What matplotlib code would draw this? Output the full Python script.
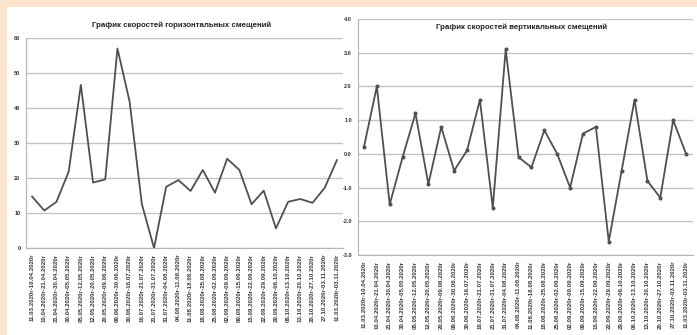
import matplotlib
matplotlib.use("Agg")
import matplotlib.pyplot as plt
from matplotlib.patches import Rectangle

periods = [
    "11.03.2020г-10.04.2020г", "10.04.2020г-21.04.2020г", "21.04.2020г-30.04.2020г",
    "30.04.2020г-05.05.2020г", "05.05.2020г-12.05.2020г", "12.05.2020г-20.05.2020г",
    "20.05.2020г-09.06.2020г", "09.06.2020г-30.06.2020г", "30.06.2020г-16.07.2020г",
    "16.07.2020г-21.07.2020г", "21.07.2020г-31.07.2020г", "31.07.2020г-04.08.2020г",
    "04.08.2020г-11.08.2020г", "11.08.2020г-18.08.2020г", "18.08.2020г-25.08.2020г",
    "25.08.2020г-02.09.2020г", "02.09.2020г-09.09.2020г", "09.09.2020г-15.09.2020г",
    "15.09.2020г-22.09.2020г", "22.09.2020г-29.09.2020г", "29.09.2020г-06.10.2020г",
    "06.10.2020г-13.10.2020г", "13.10.2020г-20.10.2020г", "20.10.2020г-27.10.2020г",
    "27.10.2020г-03.11.2020г", "11.03.2020г-03.11.2020г",
]
horizontal = [14.7, 10.7, 13.2, 21.8, 46.6, 18.7, 19.6, 57.0, 41.8, 12.6, 0.0, 17.5, 19.4,
              16.3, 22.3, 15.8, 25.5, 22.3, 12.5, 16.4, 5.6, 13.2, 14.0, 12.9, 17.2, 25.1]
vertical = [0.2, 2.0, -1.5, -0.1, 1.2, -0.9, 0.8, -0.5, 0.1, 1.6, -1.6, 3.1, -0.1,
            -0.4, 0.7, 0.0, -1.0, 0.6, 0.8, -2.6, -0.5, 1.6, -0.8, -1.3, 1.0, 0.0]
title_h = "График скоростей горизонтальных смещений"
title_v = "График скоростей вертикальных смещений"
yticks_h = [0, 10, 20, 30, 40, 50, 60]
yticks_v = [-3.0, -2.0, -1.0, 0.0, 1.0, 2.0, 3.0, 4.0]

FONT = ["Liberation Sans Narrow", "Liberation Sans", "DejaVu Sans"]
plt.rcParams["font.family"] = FONT

W, H = 697, 335
fig = plt.figure(figsize=(W / 100, H / 100), dpi=100)
fig.patch.set_facecolor("#fce3cb")
fig.patches.append(Rectangle((7 / W, 0), 1 - 7 / W, 1 - 7 / H, transform=fig.transFigure,
                             facecolor="white", edgecolor="none", zorder=-10))

line_c = "#505050"
grid_c = "#c4c4c4"
x = list(range(len(periods)))


def style(ax, yticks, fmt):
    ax.set_facecolor("none")
    ax.set_xlim(-0.5, len(periods) - 0.5)
    ax.set_yticks(yticks)
    ax.set_yticklabels([fmt(v) for v in yticks], fontsize=4, color="#333333",
                       fontweight="bold")
    ax.set_xticks(x)
    ax.set_xticklabels(periods, rotation=90, fontsize=4.4, color="#3a3a3a",
                       fontweight="bold")
    ax.tick_params(axis="both", length=0, pad=4)
    ax.grid(axis="y", color=grid_c, linewidth=1.0)
    ax.set_axisbelow(True)
    for s in ["top", "right"]:
        ax.spines[s].set_visible(False)
    for s in ["left", "bottom"]:
        ax.spines[s].set_color("#b5b5b5")
        ax.spines[s].set_linewidth(0.8)


ax1 = fig.add_axes([26 / W, 1 - 248 / H, 317 / W, 210 / H])
ax1.plot(x, horizontal, color=line_c, linewidth=1.3)
ax1.set_ylim(0, 60)
style(ax1, yticks_h, lambda v: f"{v:.0f}")
fig.text(182 / W, 1 - 25 / H, title_h, ha="center", va="center", fontsize=5.7,
         fontweight="bold", color="#222222")

ax2 = fig.add_axes([357.5 / W, 1 - 255 / H, 335 / W, 236 / H])
ax2.plot(x, vertical, color=line_c, linewidth=1.3, marker="o", markersize=1.9)
ax2.set_ylim(-3, 4)
style(ax2, yticks_v, lambda v: f"{v:.1f}")
fig.text(522 / W, 1 - 27 / H, title_v, ha="center", va="center", fontsize=5.7,
         fontweight="bold", color="#222222")

fig.savefig("out.png", dpi=100, facecolor=fig.get_facecolor())
